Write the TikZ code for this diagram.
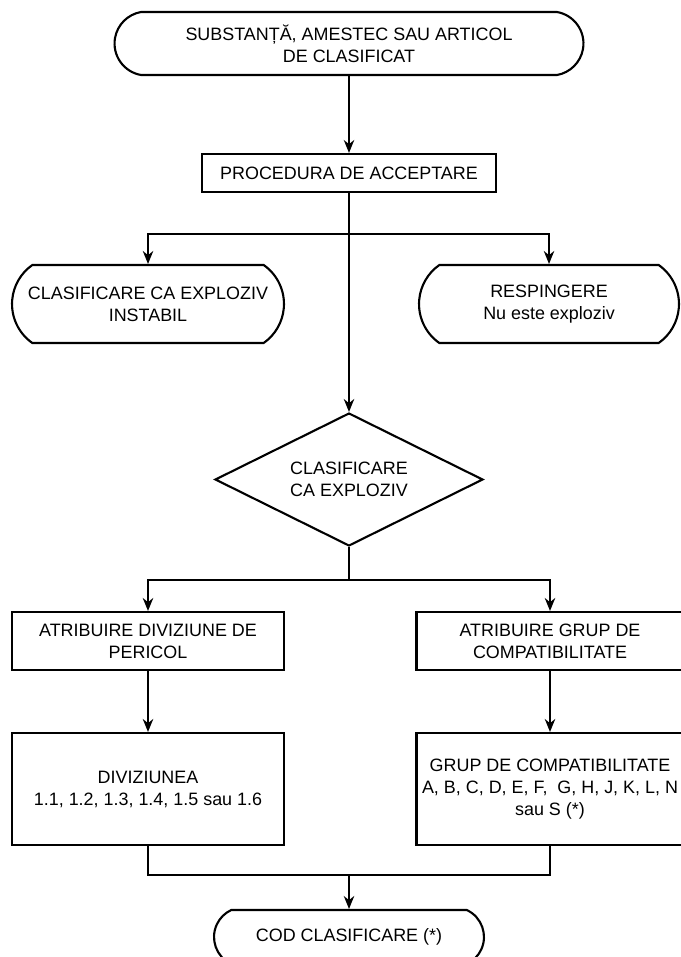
\documentclass[tikz,border=0pt]{standalone}
\usepackage{fontspec}
\setmainfont{Liberation Sans}
\usetikzlibrary{shapes.geometric,shapes.misc,arrows.meta}

\begin{document}
\begin{tikzpicture}[x=0.02cm,y=-0.02cm,
        every node/.style={font=\fontsize{10.2}{12.5}\selectfont,align=center,inner sep=0pt},
        term/.style={rounded rectangle,draw,line width=1.2pt,rounded rectangle arc length=#1},
        term/.default=120,
        box/.style={rectangle,draw,line width=1.2pt},
        dec/.style={diamond,draw,line width=1.2pt,aspect=2},
        conn/.style={line width=0.9pt},
        arr/.style={conn,-{Stealth[length=2.6mm,width=2.1mm]}}]
            \useasboundingbox (0,0) rectangle (680,957);

            \node (subst) at (349,43.5) [term=160,minimum width=9.38cm,minimum height=1.26cm] {SUBSTANȚĂ, AMESTEC SAU ARTICOL\\DE CLASIFICAT};
            \node (proc) at (349,173) [box,minimum width=5.88cm,minimum height=0.76cm] {PROCEDURA DE ACCEPTARE};
            \node (instabil) at (148,304) [term=110,minimum width=5.44cm,minimum height=1.56cm] {CLASIFICARE CA EXPLOZIV\\INSTABIL};
            \node (resp) at (549,304) [term=110,minimum width=5.2cm,minimum height=1.56cm] {RESPINGERE\\Nu este exploziv};
            \node (clas) at (349,479.5) [dec,minimum width=5.36cm,minimum height=2.66cm] {CLASIFICARE\\CA EXPLOZIV};
            \node (div) at (148,641) [box,minimum width=5.44cm,minimum height=1.16cm] {ATRIBUIRE DIVIZIUNE DE\\PERICOL};
            \node (grup) at (550,641) [box,minimum width=5.34cm,minimum height=1.16cm] {ATRIBUIRE GRUP DE\\COMPATIBILITATE};
            \node (divnr) at (148,789) [box,minimum width=5.44cm,minimum height=2.24cm] {DIVIZIUNEA\\1.1, 1.2, 1.3, 1.4, 1.5 sau 1.6};
            \node (grupnr) at (550,789) [box,minimum width=5.34cm,minimum height=2.24cm] {GRUP DE COMPATIBILITATE\\A, B, C, D, E, F,\ \ G, H, J, K, L, N\\sau S (*)};
            \node (cod) at (349,937) [term=130,minimum width=5.4cm,minimum height=1.08cm] {COD CLASIFICARE (*)};

            \coordinate (fork1) at (349,234);
            \coordinate (fork2) at (349,580);
            \coordinate (join) at (349,875);

            \draw[arr] (subst) -- (proc);
            \draw[arr] (proc) -- (clas);
            \draw[arr] (fork1) -| (instabil);
            \draw[arr] (fork1) -| (resp);
            \draw[conn] (clas) -- (fork2);
            \draw[arr] (fork2) -| (div);
            \draw[arr] (fork2) -| (grup);
            \draw[arr] (div) -- (divnr);
            \draw[arr] (grup) -- (grupnr);
            \draw[conn] (divnr) |- (join) -| (grupnr);
            \draw[arr] (join) -- (cod);

        \end{tikzpicture}
\end{document}
